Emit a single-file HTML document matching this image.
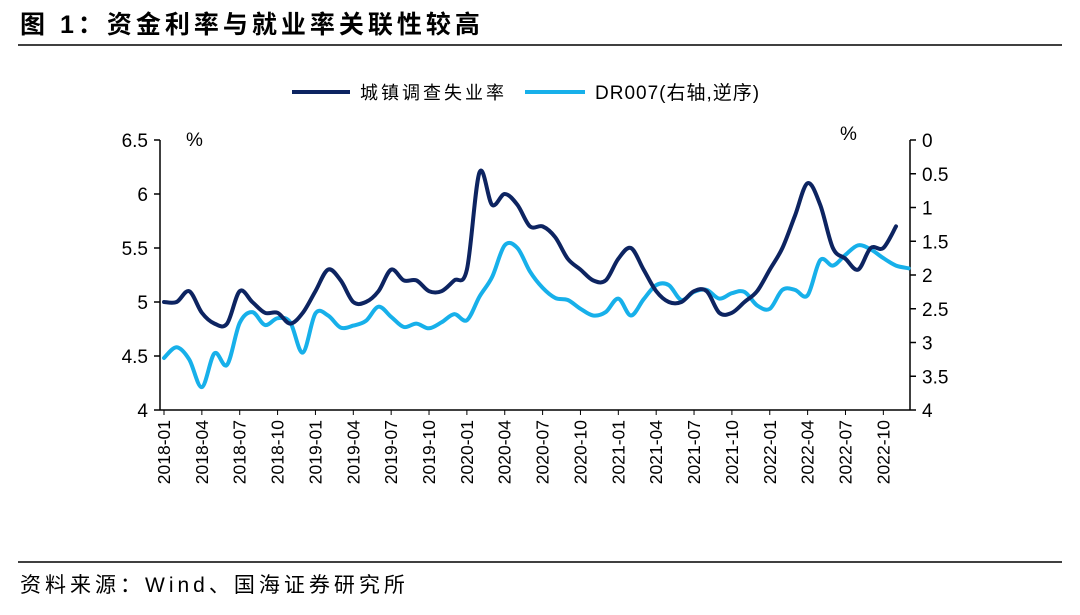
<!DOCTYPE html>
<html><head><meta charset="utf-8"><style>
body{margin:0;background:#fff;width:1080px;height:610px;overflow:hidden;font-family:"Liberation Sans","Noto Sans CJK SC",sans-serif;}
</style></head><body>
<svg width="1080" height="610" xmlns="http://www.w3.org/2000/svg" font-family="Liberation Sans, Noto Sans CJK SC, sans-serif">
<text x="20" y="33" font-size="25" font-weight="bold" fill="#000" letter-spacing="4" font-family="Liberation Sans, Noto Sans CJK SC, sans-serif">图 1：资金利率与就业率关联性较高</text>
<line x1="18" y1="45" x2="1062" y2="45" stroke="#000" stroke-width="1.5"/>
<line x1="18" y1="562" x2="1062" y2="562" stroke="#000" stroke-width="1.5"/>
<text x="20" y="592" font-size="21" fill="#000" letter-spacing="4">资料来源：Wind、国海证券研究所</text>
<g>
<line x1="292" y1="92" x2="350" y2="92" stroke="#0d2461" stroke-width="4"/>
<text x="360" y="99" font-size="18" fill="#000" letter-spacing="3">城镇调查失业率</text>
<line x1="525" y1="92" x2="585" y2="92" stroke="#17b0ea" stroke-width="4"/>
<text x="595" y="99" font-size="19" fill="#000" letter-spacing="1">DR007(右轴,逆序)</text>
</g>
<text x="186" y="146" font-size="19">%</text>
<text x="840" y="140" font-size="19">%</text>
<g id="axes"></g>
<g id="marks"></g>
</svg>
<script>
const unemp=[5.0,5.0,5.1,4.9,4.8,4.8,5.1,5.0,4.9,4.9,4.8,4.9,
5.1,5.3,5.2,5.0,5.0,5.1,5.3,5.2,5.2,5.1,5.1,5.2,
5.3,6.2,5.9,6.0,5.9,5.7,5.7,5.6,5.4,5.3,5.2,5.2,
5.4,5.5,5.3,5.1,5.0,5.0,5.1,5.1,4.9,4.9,5.0,5.1,
5.3,5.5,5.8,6.1,5.9,5.5,5.4,5.3,5.5,5.5,5.7];
const dr007=[3.23,3.07,3.25,3.66,3.16,3.33,2.71,2.55,2.74,2.64,2.7,3.15,
2.57,2.6,2.78,2.75,2.68,2.47,2.62,2.77,2.72,2.79,2.7,2.58,
2.67,2.32,2.03,1.56,1.6,1.95,2.19,2.34,2.37,2.5,2.6,2.55,
2.35,2.6,2.36,2.15,2.15,2.37,2.25,2.22,2.35,2.27,2.25,2.45,
2.5,2.22,2.22,2.3,1.78,1.86,1.7,1.56,1.62,1.75,1.86,1.9];
const leftTicks=[4,4.5,5,5.5,6,6.5];
const rightTicks=[0,0.5,1,1.5,2,2.5,3,3.5,4];
const months=[];for(let y=2018;y<=2022;y++)for(let m=1;m<=12;m++)months.push(y+'-'+String(m).padStart(2,'0'));
const NS='http://www.w3.org/2000/svg';
const X=i=>164+i*12.62;
const YL=v=>410-(v-4)*108;
const YR=v=>140+v*67.5;
function mk(t,a,p){const e=document.createElementNS(NS,t);for(const k in a)e.setAttribute(k,a[k]);(p).appendChild(e);return e;}
const ax=document.getElementById('axes'),mg=document.getElementById('marks');
let e=mk('line',{x1:160,y1:140,x2:160,y2:410,stroke:'#000','stroke-width':1.5},ax);


e=mk('line',{x1:910,y1:140,x2:910,y2:410,stroke:'#000','stroke-width':1.5},ax);


e=mk('line',{x1:160,y1:410,x2:910,y2:410,stroke:'#000','stroke-width':1.5},ax);


leftTicks.forEach(v=>{mk('line',{x1:154,y1:YL(v),x2:160,y2:YL(v),stroke:'#000','stroke-width':1.5},ax);
const t=mk('text',{x:148,y:YL(v)+7,'text-anchor':'end','font-size':19},ax);t.textContent=v;

});
rightTicks.forEach(v=>{mk('line',{x1:910,y1:YR(v),x2:916,y2:YR(v),stroke:'#000','stroke-width':1.5},ax);
const t=mk('text',{x:922,y:YR(v)+7,'font-size':19},ax);t.textContent=v;

});
months.forEach((m,i)=>{if(i%3!==0)return;
mk('line',{x1:X(i),y1:410,x2:X(i),y2:415,stroke:'#000','stroke-width':1},ax);
const t=mk('text',{x:0,y:0,'text-anchor':'end','font-size':17.5,transform:`translate(${X(i)+6},420) rotate(-90)`},ax);t.textContent=m;

});
function path(arr,f){
  const p=arr.map((v,i)=>[X(i),f(v)]);
  let d='M'+p[0][0].toFixed(1)+','+p[0][1].toFixed(1);
  for(let i=0;i<p.length-1;i++){
    const p0=p[Math.max(0,i-1)],p1=p[i],p2=p[i+1],p3=p[Math.min(p.length-1,i+2)];
    const c1=[p1[0]+(p2[0]-p0[0])/6,p1[1]+(p2[1]-p0[1])/6];
    const c2=[p2[0]-(p3[0]-p1[0])/6,p2[1]-(p3[1]-p1[1])/6];
    d+='C'+c1.map(n=>n.toFixed(1)).join(',')+' '+c2.map(n=>n.toFixed(1)).join(',')+' '+p2.map(n=>n.toFixed(1)).join(',');
  }
  return d;
}
e=mk('path',{d:path(dr007,YR),fill:'none',stroke:'#17b0ea','stroke-width':4,'stroke-linejoin':'round','stroke-linecap':'round'},mg);


e=mk('path',{d:path(unemp,YL),fill:'none',stroke:'#0d2461','stroke-width':4,'stroke-linejoin':'round','stroke-linecap':'round'},mg);


</script>
</body></html>
